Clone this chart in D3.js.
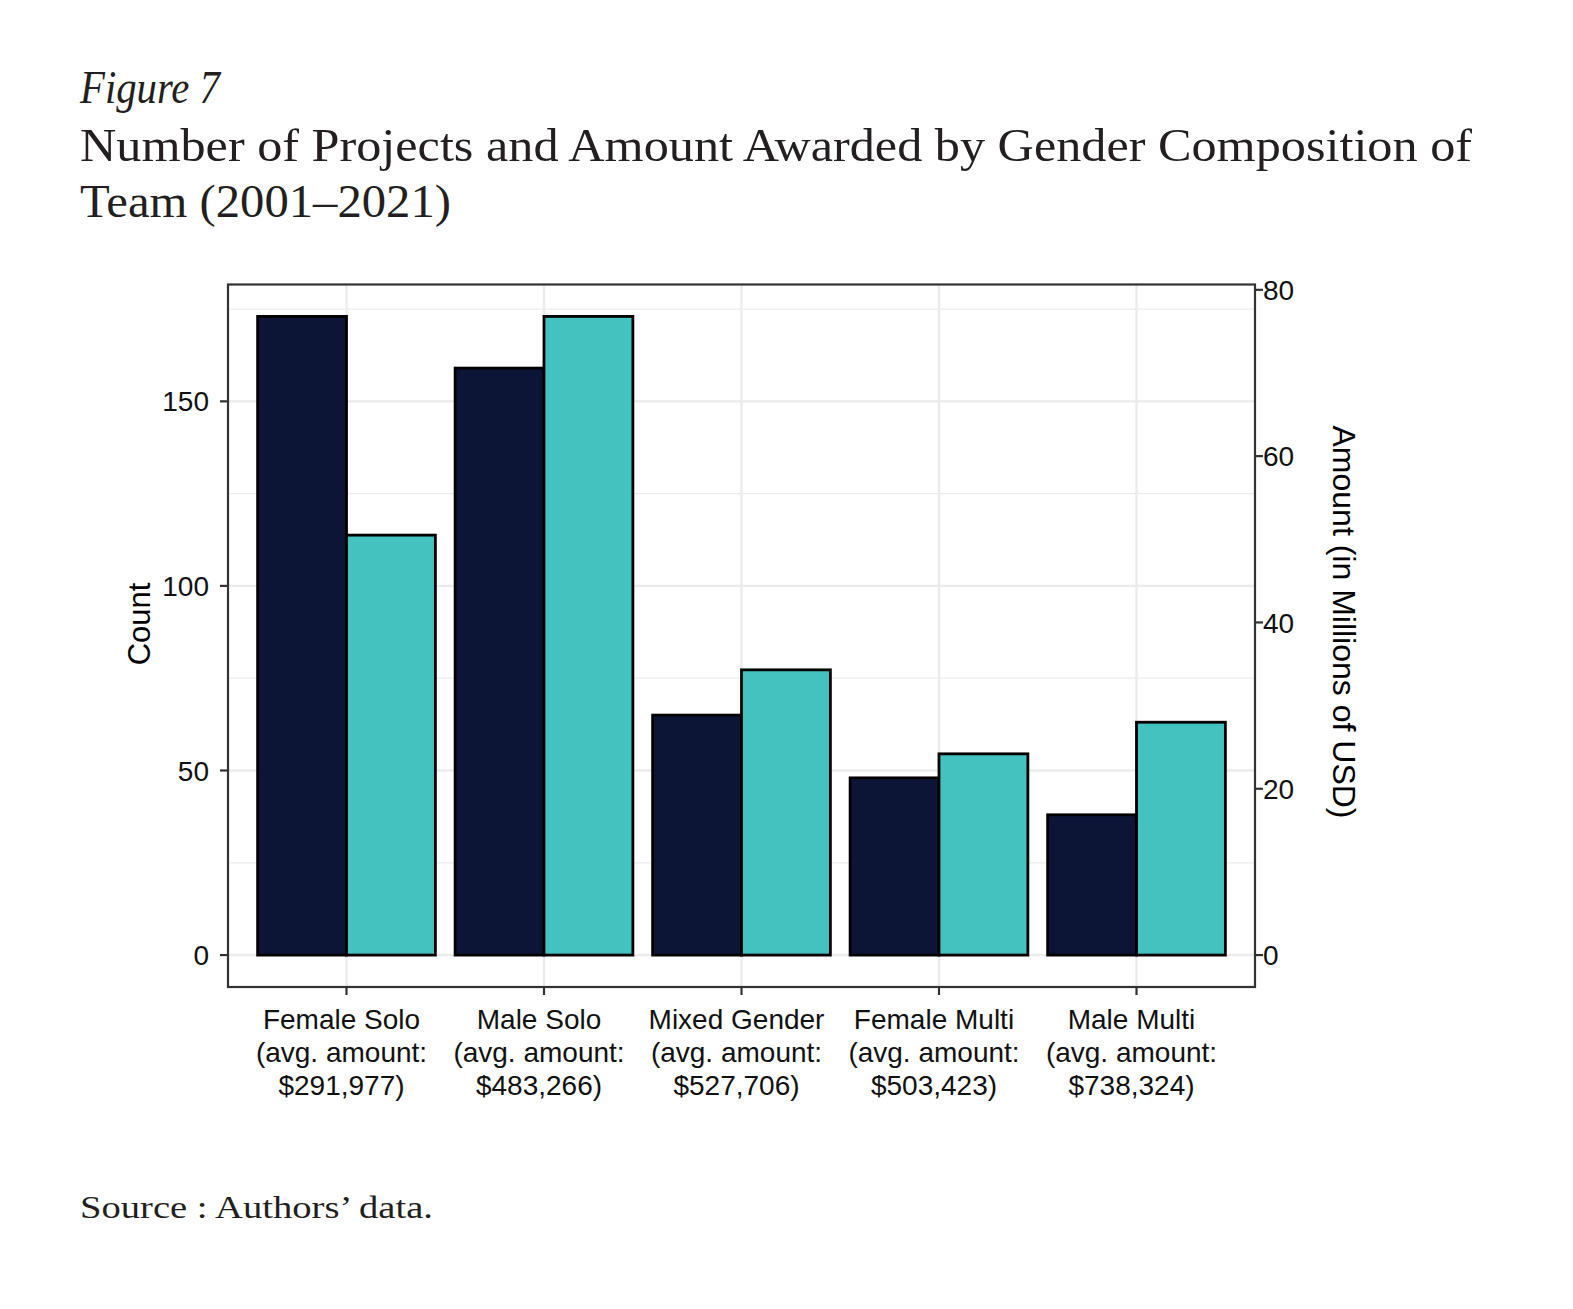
<!DOCTYPE html>
<html>
<head>
<meta charset="utf-8">
<script src="https://cdn.jsdelivr.net/npm/d3@7"></script>
<style>
  html, body { margin: 0; padding: 0; background: #fff; }
  svg { display: block; }
</style>
</head>
<body>
<script>
// ---- Data ----
const categories = ["Female Solo", "Male Solo", "Mixed Gender", "Female Multi", "Male Multi"];
const avgAmountLabels = ["$291,977", "$483,266", "$527,706", "$503,423", "$738,324"];
const counts = [173, 159, 65, 48, 38];
const amountsMillions = [50.5, 76.8, 34.3, 24.2, 28.0];
const countTicks = [0, 50, 100, 150];
const countMinorTicks = [25, 75, 125, 175];
const amountTicks = [0, 20, 40, 60, 80];
const seriesKeys = ["count", "amount"];
const seriesColors = ["#0d1536", "#43c2c0"];

// ---- Layout ----
const W = 1573, H = 1309;
const panel = { left: 228, right: 1255, top: 284.5, bottom: 987 };
const sansFont = "'Liberation Sans', Arial, Helvetica, sans-serif";
const serifFont = "'Liberation Serif', 'Times New Roman', serif";

const svg = d3.select("body").append("svg")
  .attr("width", W).attr("height", H)
  .attr("viewBox", `0 0 ${W} ${H}`);

// Titles
svg.append("text")
  .attr("x", 80).attr("y", 103)
  .attr("font-family", serifFont).attr("font-style", "italic")
  .attr("font-size", 46).attr("fill", "#231f20")
  .attr("textLength", 140).attr("lengthAdjust", "spacingAndGlyphs")
  .text("Figure 7");
svg.append("text")
  .attr("x", 80).attr("y", 161)
  .attr("font-family", serifFont).attr("font-size", 46).attr("fill", "#231f20")
  .attr("textLength", 1392).attr("lengthAdjust", "spacingAndGlyphs")
  .text("Number of Projects and Amount Awarded by Gender Composition of");
svg.append("text")
  .attr("x", 80).attr("y", 216.5)
  .attr("font-family", serifFont).attr("font-size", 46).attr("fill", "#231f20")
  .attr("textLength", 371).attr("lengthAdjust", "spacingAndGlyphs")
  .text("Team (2001\u20132021)");
svg.append("text")
  .attr("x", 80).attr("y", 1218)
  .attr("font-family", serifFont).attr("font-size", 32).attr("fill", "#231f20")
  .attr("textLength", 353).attr("lengthAdjust", "spacingAndGlyphs")
  .text("Source : Authors\u2019 data.");

// ---- Scales ----
const x = d3.scaleBand().domain(categories)
  .range([panel.left, panel.right])
  .paddingInner(0.1).paddingOuter(0.15);
const xSeries = d3.scaleBand().domain(seriesKeys).range([0, x.bandwidth()]).padding(0);

const maxCount = d3.max(counts);
const expand = maxCount * 0.05;
const yLeft = d3.scaleLinear().domain([-expand, maxCount + expand])
  .range([panel.bottom, panel.top]);
const k = d3.max(amountsMillions) / maxCount;
const yRight = d3.scaleLinear().domain([-expand * k, (maxCount + expand) * k])
  .range([panel.bottom, panel.top]);

// ---- Panel background & grid ----
svg.append("rect")
  .attr("x", panel.left).attr("y", panel.top)
  .attr("width", panel.right - panel.left).attr("height", panel.bottom - panel.top)
  .attr("fill", "#fff");

const grid = svg.append("g");
grid.selectAll("line.minor").data(countMinorTicks).join("line")
  .attr("x1", panel.left).attr("x2", panel.right)
  .attr("y1", d => yLeft(d)).attr("y2", d => yLeft(d))
  .attr("stroke", "#ebebeb").attr("stroke-width", 1.2);
grid.selectAll("line.major").data(countTicks).join("line")
  .attr("x1", panel.left).attr("x2", panel.right)
  .attr("y1", d => yLeft(d)).attr("y2", d => yLeft(d))
  .attr("stroke", "#ebebeb").attr("stroke-width", 2.4);
grid.selectAll("line.vmajor").data(categories).join("line")
  .attr("x1", d => x(d) + x.bandwidth() / 2).attr("x2", d => x(d) + x.bandwidth() / 2)
  .attr("y1", panel.top).attr("y2", panel.bottom)
  .attr("stroke", "#ebebeb").attr("stroke-width", 2.4);

// ---- Bars ----
const rows = categories.map((c, i) => ({
  cat: c,
  vals: [
    { key: "count", y0: yLeft(0), y1: yLeft(counts[i]), color: seriesColors[0] },
    { key: "amount", y0: yRight(0), y1: yRight(amountsMillions[i]), color: seriesColors[1] }
  ]
}));
const barG = svg.append("g");
rows.forEach(r => {
  barG.selectAll(null).data(r.vals).join("rect")
    .attr("x", d => x(r.cat) + xSeries(d.key))
    .attr("width", xSeries.bandwidth())
    .attr("y", d => d.y1)
    .attr("height", d => d.y0 - d.y1)
    .attr("fill", d => d.color)
    .attr("stroke", "#000").attr("stroke-width", 2.8);
});

// ---- Panel border ----
svg.append("rect")
  .attr("x", panel.left).attr("y", panel.top)
  .attr("width", panel.right - panel.left).attr("height", panel.bottom - panel.top)
  .attr("fill", "none").attr("stroke", "#333").attr("stroke-width", 2.2);

// ---- Axes ----
const tickLen = 8;
const tickColor = "#333";
// Left
const left = svg.append("g");
left.selectAll("line").data(countTicks).join("line")
  .attr("x1", panel.left - tickLen).attr("x2", panel.left)
  .attr("y1", d => yLeft(d)).attr("y2", d => yLeft(d))
  .attr("stroke", tickColor).attr("stroke-width", 2.2);
left.selectAll("text").data(countTicks).join("text")
  .attr("x", 209).attr("y", d => yLeft(d)).attr("dy", "0.36em")
  .attr("text-anchor", "end")
  .attr("font-family", sansFont).attr("font-size", 28).attr("fill", "#111")
  .text(d => d);
// Right
const right = svg.append("g");
right.selectAll("line").data(amountTicks).join("line")
  .attr("x1", panel.right).attr("x2", panel.right + tickLen)
  .attr("y1", d => yRight(d)).attr("y2", d => yRight(d))
  .attr("stroke", tickColor).attr("stroke-width", 2.2);
right.selectAll("text").data(amountTicks).join("text")
  .attr("x", panel.right + tickLen).attr("y", d => yRight(d)).attr("dy", "0.36em")
  .attr("text-anchor", "start")
  .attr("font-family", sansFont).attr("font-size", 28).attr("fill", "#111")
  .text(d => d);
// Bottom
const bottom = svg.append("g");
bottom.selectAll("line").data(categories).join("line")
  .attr("x1", d => x(d) + x.bandwidth() / 2).attr("x2", d => x(d) + x.bandwidth() / 2)
  .attr("y1", panel.bottom).attr("y2", panel.bottom + tickLen)
  .attr("stroke", tickColor).attr("stroke-width", 2.2);
const catText = bottom.selectAll("text").data(categories).join("text")
  .attr("text-anchor", "middle")
  .attr("font-family", sansFont).attr("font-size", 28).attr("fill", "#111");
catText.each(function (d, i) {
  const cx = x(d) + x.bandwidth() / 2 - 5;
  const lines = [d, "(avg. amount:", avgAmountLabels[i] + ")"];
  d3.select(this).selectAll("tspan").data(lines).join("tspan")
    .attr("x", cx).attr("y", (l, j) => 1029 + j * 33)
    .text(l => l);
});

// Axis titles
svg.append("text")
  .attr("transform", "translate(150,624) rotate(-90)")
  .attr("text-anchor", "middle")
  .attr("font-family", sansFont).attr("font-size", 31).attr("fill", "#000")
  .text("Count");
svg.append("text")
  .attr("transform", "translate(1333,622) rotate(90)")
  .attr("text-anchor", "middle")
  .attr("font-family", sansFont).attr("font-size", 32).attr("fill", "#000")
  .text("Amount (in Millions of USD)");
</script>
</body>
</html>
